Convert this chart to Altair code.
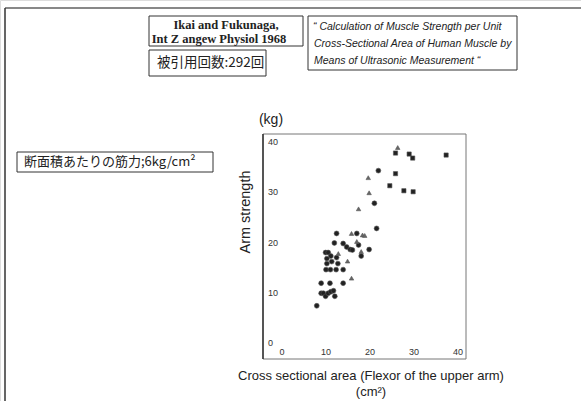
import altair as alt
import pandas as pd

# ---- data ----
circle_x = [21.9, 21.0, 21.5, 12.4, 17.0, 11.9, 13.9, 14.7, 15.5, 16.0, 19.8, 18.0,
            9.9, 10.5, 11.1, 12.4, 10.2, 10.2, 11.3, 12.7, 10.0, 11.0, 12.3, 13.9,
            8.9, 10.9, 13.9, 8.9, 9.4, 9.9, 10.5, 11.1, 11.7, 12.0, 7.9, 17.4]
circle_y = [34.3, 27.8, 22.8, 21.8, 21.8, 19.9, 19.8, 19.1, 18.6, 18.5, 18.6, 17.3,
            18.0, 18.0, 17.3, 17.0, 16.8, 15.8, 16.2, 15.8, 14.6, 14.6, 14.6, 14.6,
            11.9, 11.9, 11.9, 9.9, 9.9, 9.3, 9.9, 10.2, 10.4, 9.3, 7.4, 19.5]
tri_x = [26.3, 19.6, 19.8, 17.4, 15.8, 18.3, 18.8, 17.0, 18.0, 12.8, 14.9, 15.8]
tri_y = [38.9, 32.9, 29.9, 26.7, 21.8, 21.5, 21.4, 20.2, 18.2, 17.8, 16.3, 12.9]
sq_x = [25.8, 28.9, 29.7, 37.3, 25.8, 24.5, 27.7, 29.8]
sq_y = [37.8, 37.6, 36.8, 37.4, 33.7, 31.3, 30.3, 30.1]
x_ticks = [0, 10, 20, 30, 40]
y_ticks = [0, 10, 20, 30, 40]

xs = alt.Scale(domain=[0, 40], range=[282, 458])
ys = alt.Scale(domain=[0, 40], range=[343, 142])

ONE = pd.DataFrame({"a": [0]})


def text(txt, x, y, size=12, font="Liberation Sans", align="left", **kw):
    return alt.Chart(pd.DataFrame({"t": [txt]})).mark_text(
        align=align, baseline="middle", fontSize=size, font=font, **kw
    ).encode(x=alt.value(x), y=alt.value(y), text="t:N")


def box(x1, y1, x2, y2, color="#333", sw=1):
    return alt.Chart(ONE).mark_rect(fill="transparent", stroke=color, strokeWidth=sw).encode(
        x=alt.value(x1), x2=alt.value(x2), y=alt.value(y1), y2=alt.value(y2))


def line(x1, y1, x2, y2, color="#333", sw=1):
    return alt.Chart(ONE).mark_rule(color=color, strokeWidth=sw).encode(
        x=alt.value(x1), x2=alt.value(x2), y=alt.value(y1), y2=alt.value(y2))


def scatter(xv, yv, shape, size, color="#222"):
    df = pd.DataFrame({"x": xv, "y": yv})
    return alt.Chart(df).mark_point(shape=shape, filled=True, size=size, color=color, opacity=1,
                                    stroke="#555", strokeWidth=0.6).encode(
        x=alt.X("x:Q", scale=xs, axis=None),
        y=alt.Y("y:Q", scale=ys, axis=None))


xt = alt.Chart(pd.DataFrame({"v": x_ticks})).mark_text(
    align="center", baseline="middle", fontSize=9, font="Liberation Sans", color="#333"
).encode(x=alt.X("v:Q", scale=xs, axis=None), y=alt.value(352), text=alt.Text("v:Q"))

yt = alt.Chart(pd.DataFrame({"v": y_ticks})).mark_text(
    align="left", baseline="middle", fontSize=9, font="Liberation Sans", color="#333"
).encode(y=alt.Y("v:Q", scale=ys, axis=None), x=alt.value(268), text=alt.Text("v:Q"))

layers = [
    # slide frame
    line(5, 8, 581, 8, color="#888", sw=2),
    line(5, 8, 5, 401, color="#333", sw=1.5),
    # reference boxes
    box(149, 16, 303, 46),
    text("Ikai and Fukunaga,", 226, 25, size=12.5, font="Liberation Serif", align="center", fontWeight="bold", color="#222"),
    text("Int Z angew Physiol 1968", 219, 39, size=12.5, font="Liberation Serif", align="center", fontWeight="bold", color="#222"),
    box(149, 50, 266, 76),
    text("被引用回数:292回", 157, 63, size=13.5, font="Noto Sans CJK JP", color="#222"),
    box(308, 16, 517, 70),
    text("“ Calculation of Muscle Strength per Unit", 313, 27, size=10.5, fontStyle="italic", color="#222"),
    text("Cross-Sectional Area  of Human Muscle by", 314, 44, size=10.5, fontStyle="italic", color="#222"),
    text("Means of Ultrasonic Measurement “", 314, 61, size=10.5, fontStyle="italic", color="#222"),
    box(17, 152, 213, 172),
    text("断面積あたりの筋力;6kg/cm²", 24, 162, size=13, font="Noto Sans CJK JP", color="#222"),
    # plot frame
    box(263, 134, 466, 359, color="#777", sw=1),
    line(263, 134, 263, 359, color="#333", sw=1.5),
    xt, yt,
    text("(kg)", 271, 120, size=14, align="center", color="#222"),
    text("Arm strength", 246, 212, size=14.5, align="center", angle=270, color="#222"),
    text("Cross sectional area (Flexor of the upper arm)", 371, 376, size=13, align="center", color="#222"),
    text("(cm²)", 371, 392, size=13, align="center", color="#222"),
    scatter(circle_x, circle_y, "circle", 24),
    scatter(tri_x, tri_y, "triangle-up", 20, color="#666"),
    scatter(sq_x, sq_y, "square", 18),
]

chart = alt.layer(*layers).properties(
    width=581, height=401, autosize=alt.AutoSizeParams(type="none"), padding=0
).configure_view(strokeWidth=0).configure(background="white")

chart.save("out.html", embed_options={"renderer": "svg", "actions": False})
